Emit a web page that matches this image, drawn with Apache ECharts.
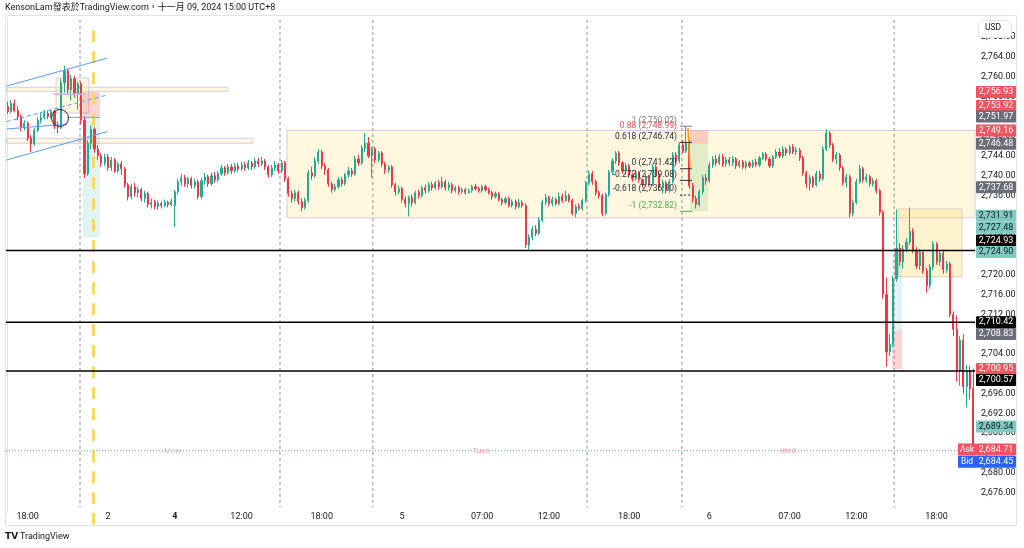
<!DOCTYPE html>
<html><head><meta charset="utf-8">
<script src="https://cdn.jsdelivr.net/npm/echarts@6/dist/echarts.min.js"></script>
<style>html,body{margin:0;padding:0;background:#fff}#c{width:1024px;height:548px}</style>
</head><body><div id="c"></div><script>
// ---- sessions (15-minute bars): [y, m, d, hh, mm, bars]
const sessions = [[2024,10,1,16,30,50],[2024,10,4,7,0,92],[2024,10,5,7,0,92],[2024,10,6,7,0,56]];
// ---- time-axis tick labels: [barIndex, label]
const tickLabels = [[6,'18:00'],[30,'2'],[50,'4'],[70,'12:00'],[94,'18:00'],[118,'5'],[142,'07:00'],[162,'12:00'],[186,'18:00'],[210,'6'],[234,'07:00'],[254,'12:00'],[278,'18:00']];
// ---- candles: [open, close, low, high]
const ohlc = [
[2754.0,2753.0,2752.5,2755.0],[2753.0,2754.6,2752.6,2755.3],[2754.6,2753.2,2752.8,2755.4],[2753.2,2752.0,2751.2,2754.0],
[2752.0,2749.8,2749.0,2752.4],[2749.8,2750.6,2749.2,2751.2],[2750.6,2747.6,2747.0,2751.0],[2747.6,2746.4,2744.8,2748.2],
[2746.4,2749.2,2746.0,2749.6],[2749.2,2751.2,2748.8,2751.8],[2751.2,2751.8,2750.6,2752.8],[2751.8,2752.6,2751.4,2753.3],
[2752.6,2752.0,2751.5,2753.2],[2752.0,2753.0,2751.6,2753.5],[2753.0,2750.0,2749.4,2753.3],[2750.0,2749.8,2748.6,2751.0],
[2749.8,2758.8,2749.4,2759.6],[2758.8,2761.2,2756.8,2762.2],[2761.2,2757.4,2756.6,2761.6],[2757.4,2759.6,2755.2,2760.4],
[2759.6,2756.6,2755.8,2760.2],[2756.6,2758.6,2753.4,2759.0],[2758.6,2751.2,2750.4,2759.0],[2751.2,2740.4,2739.6,2752.0],
[2740.4,2746.6,2740.0,2747.2],[2746.6,2749.4,2745.4,2750.2],[2749.4,2745.4,2744.6,2749.8],[2745.4,2744.0,2743.2,2746.2],
[2744.0,2742.6,2741.8,2744.6],[2742.6,2743.8,2742.0,2744.4],[2743.8,2741.6,2741.0,2744.4],[2741.6,2743.2,2741.0,2743.8],
[2743.2,2741.0,2740.6,2743.6],[2741.0,2742.4,2740.6,2742.8],[2742.4,2741.4,2740.2,2743.0],[2741.4,2738.2,2737.6,2741.8],
[2738.2,2735.8,2735.0,2738.6],[2735.8,2737.8,2735.2,2738.4],[2737.8,2736.6,2735.8,2738.6],[2736.6,2737.2,2735.6,2737.8],
[2737.2,2735.4,2734.8,2737.6],[2735.4,2736.4,2734.6,2737.0],[2736.4,2734.2,2733.6,2736.8],[2734.2,2734.6,2733.4,2735.4],
[2734.6,2733.8,2733.2,2735.2],[2733.8,2734.4,2733.2,2735.0],[2734.4,2734.0,2733.4,2734.8],[2734.0,2734.6,2733.6,2735.2],
[2734.6,2734.2,2733.6,2735.0],[2734.2,2734.8,2733.8,2735.4],
// Nov 4
[2734.0,2736.8,2729.6,2737.2],[2736.8,2738.8,2736.2,2739.4],[2738.8,2739.6,2738.0,2740.4],[2739.6,2738.4,2737.8,2740.2],
[2738.4,2739.4,2737.6,2739.8],[2739.4,2738.0,2737.4,2739.8],[2738.0,2738.8,2737.4,2739.4],[2738.8,2735.8,2735.2,2739.2],
[2735.8,2739.0,2735.4,2739.6],[2739.0,2739.8,2738.2,2740.6],[2739.8,2738.4,2737.8,2740.2],[2738.4,2740.0,2738.0,2740.6],
[2740.0,2739.2,2738.6,2740.8],[2739.2,2740.4,2738.8,2741.0],[2740.4,2741.6,2740.0,2742.2],[2741.6,2740.6,2740.0,2742.0],
[2740.6,2741.8,2740.2,2742.4],[2741.8,2741.0,2740.4,2742.4],[2741.0,2742.0,2740.6,2742.6],[2742.0,2741.4,2740.8,2742.6],
[2741.4,2742.2,2741.0,2742.8],[2742.2,2741.6,2741.0,2742.8],[2741.6,2742.6,2741.2,2743.2],[2742.6,2741.8,2741.2,2743.0],
[2741.8,2743.0,2741.4,2743.6],[2743.0,2742.4,2741.8,2743.6],[2742.4,2743.0,2742.0,2743.8],[2743.0,2741.8,2741.2,2743.4],
[2741.8,2740.2,2739.6,2742.2],[2740.2,2741.6,2739.8,2742.2],[2741.6,2742.2,2741.0,2743.0],[2742.2,2741.0,2740.4,2742.6],
[2741.0,2742.6,2740.6,2743.2],[2742.6,2739.4,2738.8,2743.0],[2739.4,2736.4,2735.8,2739.8],[2736.4,2735.4,2734.6,2737.0],
[2735.4,2736.6,2734.8,2737.2],[2736.6,2734.8,2734.2,2737.0],[2734.8,2733.6,2732.8,2735.4],[2733.6,2735.0,2733.2,2735.6],
[2735.0,2740.6,2734.6,2741.2],[2740.6,2740.0,2739.2,2741.8],[2740.0,2743.0,2739.6,2743.8],[2743.0,2744.8,2742.4,2745.4],
[2744.8,2742.0,2741.4,2745.2],[2742.0,2741.2,2740.2,2742.6],[2741.2,2738.4,2737.8,2741.6],[2738.4,2737.2,2736.6,2738.8],
[2737.2,2737.8,2736.8,2738.4],[2737.8,2739.2,2737.4,2739.8],[2739.2,2738.4,2737.8,2739.8],[2738.4,2740.2,2738.0,2740.6],
[2740.2,2741.0,2739.6,2741.8],[2741.0,2740.4,2739.8,2741.6],[2740.4,2743.4,2740.0,2744.0],[2743.4,2742.6,2742.0,2744.2],
[2742.6,2745.6,2742.2,2746.2],[2745.6,2746.6,2744.8,2748.6],[2746.6,2744.0,2743.6,2747.8],[2744.0,2745.4,2739.6,2745.8],
[2745.4,2743.2,2742.6,2745.8],[2743.2,2744.6,2742.8,2745.0],[2744.6,2742.4,2741.8,2745.0],[2742.4,2741.2,2740.4,2742.8],
[2741.2,2741.8,2740.6,2742.2],[2741.8,2738.2,2737.6,2742.2],[2738.2,2736.8,2736.0,2738.6],[2736.8,2737.4,2736.2,2738.0],
[2737.4,2735.2,2734.6,2737.8],[2735.2,2734.4,2733.6,2735.8],[2734.4,2735.6,2731.8,2736.0],[2735.6,2734.6,2733.8,2736.2],
[2734.6,2736.6,2734.2,2737.0],[2736.6,2736.0,2735.4,2737.2],[2736.0,2737.6,2735.6,2738.0],[2737.6,2737.0,2736.4,2738.2],
[2737.0,2738.2,2736.6,2738.8],[2738.2,2737.6,2737.0,2738.8],[2737.6,2738.6,2737.2,2739.0],[2738.6,2737.8,2737.2,2739.2],
[2737.8,2738.8,2737.4,2739.8],[2738.8,2737.6,2737.0,2739.2],[2737.6,2738.2,2737.0,2738.8],[2738.2,2737.0,2736.4,2738.6],
[2737.0,2737.6,2736.6,2738.0],[2737.6,2736.8,2736.2,2738.0],[2736.8,2737.2,2736.4,2737.6],[2737.2,2736.6,2736.2,2737.6],
[2736.6,2737.0,2736.4,2737.4],[2737.0,2737.8,2736.6,2738.2],[2737.8,2737.4,2737.0,2738.4],[2737.4,2737.0,2736.6,2737.8],
// Nov 5
[2737.0,2737.8,2736.6,2738.2],[2737.8,2737.2,2736.8,2738.2],[2737.2,2736.6,2736.2,2737.6],[2736.6,2735.8,2735.2,2737.0],
[2735.8,2736.4,2735.4,2736.8],[2736.4,2735.2,2734.8,2736.8],[2735.2,2734.6,2734.0,2735.6],[2734.6,2735.4,2734.2,2735.8],
[2735.4,2734.0,2733.6,2735.8],[2734.0,2734.8,2733.6,2735.2],[2734.8,2733.8,2733.2,2735.2],[2733.8,2734.6,2733.4,2735.4],
[2734.6,2734.0,2733.6,2735.0],[2734.0,2726.0,2725.4,2734.4],[2726.0,2727.6,2725.0,2728.2],[2727.6,2729.2,2727.0,2729.8],
[2729.2,2728.4,2727.8,2730.0],[2728.4,2731.0,2728.0,2731.6],[2731.0,2734.6,2730.6,2735.2],[2734.6,2735.6,2734.0,2736.4],
[2735.6,2734.4,2733.8,2736.0],[2734.4,2735.2,2733.8,2735.8],[2735.2,2734.4,2734.0,2735.6],[2734.4,2735.8,2734.0,2736.6],
[2735.8,2735.0,2734.6,2736.4],[2735.0,2736.0,2734.8,2737.0],[2736.0,2735.0,2734.6,2736.4],[2735.0,2732.4,2732.0,2735.4],
[2732.4,2733.8,2731.6,2734.2],[2733.8,2733.4,2733.0,2734.4],[2733.4,2735.0,2733.0,2735.4],[2735.0,2738.6,2734.6,2739.0],
[2738.6,2740.4,2738.0,2741.0],[2740.4,2738.8,2738.2,2741.0],[2738.8,2736.6,2736.0,2739.2],[2736.6,2736.0,2735.4,2737.0],
[2736.0,2732.4,2731.8,2736.4],[2732.4,2736.2,2732.0,2736.6],[2736.2,2740.8,2735.8,2741.2],[2740.8,2743.0,2740.2,2743.6],
[2743.0,2744.6,2742.4,2745.0],[2744.6,2742.6,2742.0,2745.0],[2742.6,2741.0,2740.4,2743.0],[2741.0,2742.0,2740.4,2742.6],
[2742.0,2740.2,2739.6,2742.4],[2740.2,2739.4,2738.8,2740.6],[2739.4,2740.6,2739.0,2741.2],[2740.6,2739.2,2738.6,2741.0],
[2739.2,2738.2,2737.6,2739.6],[2738.2,2739.8,2737.8,2740.4],[2739.8,2738.4,2737.8,2740.2],[2738.4,2741.8,2738.0,2742.4],
[2741.8,2740.4,2739.8,2742.2],[2740.4,2737.6,2737.0,2740.8],[2737.6,2738.6,2736.4,2739.2],[2738.6,2737.0,2736.4,2739.0],
[2737.0,2738.8,2736.6,2739.4],[2738.8,2744.2,2738.4,2744.8],[2744.2,2743.0,2742.4,2744.8],[2743.0,2746.2,2742.6,2746.8],
[2746.2,2745.0,2744.6,2747.2],[2745.0,2746.6,2744.6,2750.0],[2746.6,2738.0,2737.4,2747.2],[2738.0,2735.4,2734.6,2738.6],
[2735.4,2734.2,2733.4,2736.0],[2734.2,2736.8,2733.8,2737.2],[2736.8,2739.6,2736.2,2740.2],[2739.6,2739.0,2738.2,2740.4],
[2739.0,2742.2,2738.6,2742.8],[2742.2,2743.4,2741.6,2744.0],[2743.4,2742.6,2742.0,2744.2],[2742.6,2743.8,2742.2,2744.4],
[2743.8,2742.4,2741.8,2744.4],[2742.4,2743.2,2741.8,2743.8],[2743.2,2742.6,2742.0,2743.8],[2742.6,2743.4,2742.0,2744.0],
[2743.4,2742.0,2741.4,2743.8],[2742.0,2742.8,2741.6,2743.2],[2742.8,2741.8,2741.4,2743.2],[2741.8,2742.6,2741.4,2743.0],
[2742.6,2742.0,2741.6,2743.0],[2742.0,2742.8,2741.6,2743.2],[2742.8,2742.2,2741.8,2743.4],[2742.2,2743.6,2741.8,2744.0],
[2743.6,2744.4,2743.2,2744.8],[2744.4,2743.4,2743.0,2744.8],[2743.4,2742.0,2741.6,2743.8],[2742.0,2743.8,2741.6,2744.2],
[2743.8,2744.8,2743.4,2745.4],[2744.8,2744.0,2743.6,2745.6],[2744.0,2745.4,2743.6,2746.0],[2745.4,2744.6,2744.0,2745.8],
// Nov 6
[2744.6,2745.8,2744.2,2746.2],[2745.8,2744.8,2744.4,2746.4],[2744.8,2745.2,2744.2,2745.8],[2745.2,2743.6,2743.0,2745.6],
[2743.6,2740.6,2740.0,2744.0],[2740.6,2738.4,2737.6,2741.0],[2738.4,2739.6,2737.0,2740.2],[2739.6,2738.2,2737.6,2740.0],
[2738.2,2740.4,2737.8,2741.0],[2740.4,2739.4,2738.8,2741.0],[2739.4,2745.4,2739.0,2746.0],[2745.4,2748.6,2745.0,2749.4],
[2748.6,2746.2,2745.6,2749.0],[2746.2,2743.4,2742.8,2746.6],[2743.4,2744.2,2742.4,2744.8],[2744.2,2741.6,2741.0,2744.6],
[2741.6,2738.6,2738.0,2742.0],[2738.6,2739.8,2737.6,2740.4],[2739.8,2732.4,2731.6,2740.2],[2732.4,2734.6,2731.8,2735.2],
[2734.6,2738.8,2734.2,2739.4],[2738.8,2741.4,2738.4,2742.2],[2741.4,2739.2,2738.6,2741.8],[2739.2,2739.8,2738.6,2740.4],
[2739.8,2738.4,2737.8,2740.2],[2738.4,2739.0,2737.8,2739.6],[2739.0,2737.0,2736.4,2739.4],[2737.0,2732.6,2732.0,2737.4],
[2732.6,2716.0,2715.2,2733.0],[2716.0,2704.4,2701.4,2719.4],[2704.4,2706.0,2703.6,2708.0],[2706.0,2719.2,2705.4,2719.8],
[2719.2,2725.4,2718.6,2733.2],[2725.4,2722.6,2721.8,2726.4],[2722.6,2725.2,2721.2,2726.0],[2725.2,2726.6,2724.6,2727.4],
[2726.6,2728.8,2726.0,2733.6],[2728.8,2725.0,2724.4,2729.4],[2725.0,2721.8,2721.2,2725.6],[2721.8,2724.6,2721.0,2725.2],
[2724.6,2720.8,2720.2,2725.0],[2720.8,2717.8,2716.4,2721.4],[2717.8,2721.6,2717.2,2722.2],[2721.6,2726.2,2721.0,2726.8],
[2726.2,2722.6,2722.0,2726.6],[2722.6,2724.4,2721.8,2725.0],[2724.4,2721.0,2720.2,2724.8],[2721.0,2722.2,2720.4,2722.8],
[2722.2,2712.0,2711.4,2722.6],[2712.0,2709.0,2707.6,2712.6],[2709.0,2700.6,2698.4,2711.8],[2700.6,2706.8,2697.6,2707.6],
[2706.8,2697.4,2696.0,2708.0],[2697.4,2700.6,2693.2,2701.8],[2700.6,2697.0,2694.8,2701.6],[2697.0,2684.5,2683.8,2701.0]
];
// ---- horizontal black levels
const levels = [2724.93, 2710.42, 2700.57];
const lastPrice = 2684.45;
// ---- price tags on the axis: [value, text, kind, pixelShift, sideLabel]
const tags = [
[2756.93,'2,756.93','red',0],[2753.92,'2,753.92','red',-1],[2751.97,'2,751.97','gray',0],[2749.16,'2,749.16','red',0],
[2746.48,'2,746.48','gray',0],[2737.68,'2,737.68','gray',0],[2731.91,'2,731.91','teal',0],[2727.48,'2,727.48','teal',-10],
[2724.93,'2,724.93','black',-10],[2724.90,'2,724.90','teal',1.5],[2710.42,'2,710.42','black',0],[2708.83,'2,708.83','gray',4],
[2700.95,'2,700.95','red',0],[2700.57,'2,700.57','black',9],[2689.34,'2,689.34','teal',0],
[2684.71,'2,684.71','red',0,'Ask'],[2684.45,'2,684.45','blue',11,'Bid']
];
// ---- drawings (x in bar units, y in price)
const boxes = [ // [x0, x1, pTop, pBottom, kind]
[83.6,289.5,2749.16,2731.5,'cream'],
[-0.3,65.9,2757.88,2757.07,'cream'],
[-0.3,73.4,2747.58,2746.57,'cream'],
[14.5,24.3,2759.76,2752.69,'cream'],
[22.5,27.6,2756.93,2751.97,'stop'],
[22.5,27.6,2751.97,2727.48,'target'],
[266.5,285.6,2733.3,2719.6,'yellow'],
[264.7,267.7,2724.90,2708.83,'target'],
[264.7,267.7,2708.83,2700.95,'stop'],
[204.2,209.6,2749.16,2746.48,'stop'],
[204.2,209.6,2746.48,2732.82,'target2']
];
const trendLines = [ // [x0, p0, x1, p1, kind]
[-0.3,2758.14,29.7,2763.74,'blue'],
[-0.3,2750.93,29.7,2756.32,'blueDash'],
[-0.3,2749.45,17.8,2750.46,'blue'],
[-0.3,2743.19,29.7,2748.91,'blue'],
[13.6,2756.46,23.3,2756.46,'lav'],
[17.9,2751.82,27.6,2751.82,'grayThin'],
[203.6,2749.66,204.2,2741.58,'orange']
];
const vLines = [[21.65,'gray'],[81.5,'gray'],[109.3,'gray'],[173.4,'gray'],[201.8,'gray'],[265.3,'gray'],[25.7,'yellow']];
const fibLevels = [ // [label, price, colour]
['1 (2,750.02)',2750.02,'#787b86'],['0.88 (2,748.99)',2748.99,'#f7525f'],['0.618 (2,746.74)',2746.74,'#2a2e39'],
['0 (2,741.42)',2741.42,'#2a2e39'],['-0.272 (2,739.08)',2739.08,'#2a2e39'],['-0.618 (2,736.10)',2736.10,'#2a2e39'],['-1 (2,732.82)',2732.82,'#4caf50']
];
const dayMarks = [[49.2,'Mon','#c4c6cc'],[141.7,'Tues','#f5a3aa'],[233.6,'Wed','#f5a3aa']];
const circle = [15.66, 2751.68];

// ---- build categories
const categories = [];
sessions.forEach(([y,m,d,hh,mm,n]) => {
  const t0 = Date.UTC(y,m,d,hh,mm);
  for (let k=0;k<n;k++){
    const dt = new Date(t0 + k*15*60000);
    const p = v => String(v).padStart(2,'0');
    categories.push(p(dt.getUTCMonth()+1)+'-'+p(dt.getUTCDate())+' '+p(dt.getUTCHours())+':'+p(dt.getUTCMinutes()));
  }
});
const tickMap = new Map(tickLabels);

const FONT = 'Roboto, "Noto Sans CJK TC", sans-serif';
const boxStyle = {
  cream:{fill:'rgba(255,236,170,0.38)',stroke:'#d6cbe6',lw:1},
  yellow:{fill:'rgba(252,222,130,0.38)',stroke:'#d9d0c0',lw:1},
  stop:{fill:'rgba(242,54,69,0.22)',stroke:null,lw:0},
  target:{fill:'rgba(34,171,148,0.13)',stroke:null,lw:0},
  target2:{fill:'rgba(76,175,80,0.16)',stroke:null,lw:0}
};
const lineStyleMap = {
  blue:{stroke:'#5b9cf6',lw:1,dash:null},
  blueDash:{stroke:'#5b9cf6',lw:1,dash:[4,3]},
  lav:{stroke:'#c9b8e0',lw:1.5,dash:null},
  grayThin:{stroke:'#9598a1',lw:1,dash:null},
  orange:{stroke:'#ff9800',lw:1.5,dash:null}
};
const tagStyle = {
  red:{bg:'#f7525f',fg:'#fff'}, gray:{bg:'#6a6d78',fg:'#fff'}, teal:{bg:'#7fcbbf',fg:'#131722'},
  black:{bg:'#000',fg:'#fff'}, blue:{bg:'#2962ff',fg:'#fff'}
};
const fmt = v => v.toFixed(2).replace(/\B(?=(\d{3})+(?!\d))/, ',');

const chart = echarts.init(document.getElementById('c'), null, {renderer:'canvas'});
const X1 = 289.5, X0 = -0.5;
chart.setOption({
  animation:false,
  backgroundColor:'#fff',
  grid:{left:6, right:49, top:17.4, height:495},
  xAxis:[
    {type:'category', data:categories, boundaryGap:true,
     axisLine:{show:false}, axisTick:{show:false}, splitLine:{show:false},
     axisLabel:{interval:(i)=>tickMap.has(i), formatter:(v,i)=> i===50 ? '{b|4}' : tickMap.get(i),
       margin:0, fontSize:9, color:'#131722', fontFamily:FONT,
       rich:{b:{fontWeight:'bold', fontSize:9, color:'#131722', fontFamily:FONT}}}},
    {type:'value', min:X0, max:X1, show:false}
  ],
  yAxis:{type:'value', position:'right', min:2672, max:2772, interval:4, scale:true,
    axisLine:{show:true, lineStyle:{color:'#e0e3eb'}}, axisTick:{show:false}, splitLine:{show:false},
    axisLabel:{margin:6, fontSize:9, color:'#131722', fontFamily:FONT, showMinLabel:false, showMaxLabel:false, formatter:v=>fmt(v)}},
  series:[
    {type:'custom', name:'boxes', xAxisIndex:1, z:1, silent:true,
     data:boxes.map(b=>[b[0],b[2]]),
     renderItem:(params, api)=>{
       const b = boxes[params.dataIndex], st = boxStyle[b[4]];
       const p0 = api.coord([b[0],b[2]]), p1 = api.coord([b[1],b[3]]);
       return {type:'rect', shape:{x:p0[0], y:p0[1], width:p1[0]-p0[0], height:p1[1]-p0[1]},
         style:{fill:st.fill, stroke:st.stroke, lineWidth:st.lw}};
     }},
    {type:'custom', name:'vlines', xAxisIndex:1, z:1, silent:true,
     data:vLines.map(v=>[v[0],2700]),
     renderItem:(params, api)=>{
       const v = vLines[params.dataIndex];
       if (v[1]==='yellow'){
         const a = api.coord([v[0],2769.4]), b = api.coord([v[0],2669.5]);
         return {type:'line', shape:{x1:a[0],y1:a[1],x2:b[0],y2:b[1]}, style:{stroke:'#f7d766', lineWidth:3, lineDash:[12,9]}};
       }
       const a = api.coord([v[0],2771.5]), b = api.coord([v[0],2673.0]);
       return {type:'line', shape:{x1:a[0],y1:a[1],x2:b[0],y2:b[1]}, style:{stroke:'#8a8d96', lineWidth:1, lineDash:[3,3]}};
     }},
    {type:'candlestick', name:'XAUUSD', data:ohlc, z:2, barWidth:1.6,
     itemStyle:{color:'#22ab94', color0:'#f23645', borderColor:'#22ab94', borderColor0:'#f23645', borderWidth:1}},
    {type:'custom', name:'lines', xAxisIndex:1, z:3, silent:true,
     data:trendLines.map(t=>[t[0],t[1]]),
     renderItem:(params, api)=>{
       const t = trendLines[params.dataIndex], st = lineStyleMap[t[4]];
       const a = api.coord([t[0],t[1]]), b = api.coord([t[2],t[3]]);
       return {type:'line', shape:{x1:a[0],y1:a[1],x2:b[0],y2:b[1]}, style:{stroke:st.stroke, lineWidth:st.lw, lineDash:st.dash}};
     }},
    {type:'custom', name:'levels', xAxisIndex:1, z:3, silent:true,
     data:levels.map(p=>[X0,p]),
     renderItem:(params, api)=>{
       const p = levels[params.dataIndex];
       const a = api.coord([X0,p]), b = api.coord([X1,p]);
       return {type:'line', shape:{x1:a[0],y1:a[1],x2:b[0],y2:b[1]}, style:{stroke:'#000', lineWidth:1.5}};
     }},
    {type:'custom', name:'priceLine', xAxisIndex:1, z:3, silent:true,
     data:[[X0,lastPrice]],
     renderItem:(params, api)=>{
       const a = api.coord([X0,lastPrice]), b = api.coord([X1,lastPrice]);
       return {type:'line', shape:{x1:a[0],y1:a[1],x2:b[0],y2:b[1]}, style:{stroke:'#5f9e97', lineWidth:1, lineDash:[1,2]}};
     }},
    {type:'custom', name:'days', xAxisIndex:1, z:3, silent:true,
     data:dayMarks.map(d=>[d[0],lastPrice]),
     renderItem:(params, api)=>{
       const d = dayMarks[params.dataIndex];
       const a = api.coord([d[0],lastPrice]);
       return {type:'text', style:{text:d[1], x:a[0], y:a[1], align:'center', verticalAlign:'middle', fill:d[2], fontSize:8, fontFamily:FONT}};
     }},
    {type:'custom', name:'circle', xAxisIndex:1, z:3, silent:true,
     data:[circle],
     renderItem:(params, api)=>{
       const a = api.coord(circle);
       return {type:'circle', shape:{cx:a[0], cy:a[1], r:8.5}, style:{fill:null, stroke:'#2a2e39', lineWidth:1}};
     }},
    {type:'custom', name:'fib', xAxisIndex:1, z:3, silent:true,
     data:fibLevels.map(f=>[201.2,f[1]]),
     renderItem:(params, api)=>{
       const f = fibLevels[params.dataIndex];
       const a = api.coord([201.2,f[1]]), b = api.coord([204.8,f[1]]), l = api.coord([200.3,f[1]]);
       const children = [{type:'text', style:{text:f[0], x:l[0], y:l[1]-1.5, align:'right', verticalAlign:'bottom', fill:f[2], fontSize:8.5, fontFamily:FONT}}];
       if (params.dataIndex !== 1) children.push({type:'line', shape:{x1:a[0],y1:a[1],x2:b[0],y2:b[1]}, style:{stroke:f[2], lineWidth:1, lineDash: params.dataIndex===5?[2,2]:null}});
       return {type:'group', children};
     }},
    {type:'custom', name:'tags', xAxisIndex:1, z:10, silent:true,
     data:tags.map(t=>[X1,t[0]]),
     renderItem:(params, api)=>{
       const t = tags[params.dataIndex], st = tagStyle[t[2]];
       const a = api.coord([X1,t[0]]);
       const y = a[1] + t[3], x = a[0];
       const ch = [
         {type:'rect', shape:{x:x+1, y:y-6, width:40, height:12, r:1}, style:{fill:st.bg}},
         {type:'text', style:{text:t[1], x:x+21, y:y, align:'center', verticalAlign:'middle', fill:st.fg, fontSize:9, fontFamily:FONT}}
       ];
       if (t[4]) {
         ch.push({type:'rect', shape:{x:x-17, y:y-6, width:18, height:12}, style:{fill:st.bg}});
         ch.push({type:'text', style:{text:t[4], x:x-8, y:y, align:'center', verticalAlign:'middle', fill:'#fff', fontSize:8.5, fontFamily:FONT}});
       }
       return {type:'group', children:ch};
     }}
  ],
  graphic:[
    {type:'text', left:5, top:3, z:20, style:{text:'KensonLam發表於TradingView.com，十一月 09, 2024 15:00 UTC+8', fill:'#131722', fontSize:9, fontFamily:FONT}},
    {type:'rect', z:19, shape:{x:5.5, y:15.5, width:1011, height:510}, style:{fill:null, stroke:'#e0e3eb', lineWidth:1}},
    {type:'rect', z:20, shape:{x:978.5, y:20.5, width:33, height:17, r:3}, style:{fill:'#fff', stroke:'#e0e3eb', lineWidth:1}},
    {type:'text', z:21, left:985, top:24, style:{text:'USD', fill:'#131722', fontSize:8.5, fontFamily:FONT}},
    {type:'text', z:20, left:5, top:532, style:{text:'TV', fill:'#131722', fontSize:9, fontWeight:900, fontFamily:'DejaVu Sans'}},
    {type:'text', z:20, left:20, top:532, style:{text:'TradingView', fill:'#131722', fontSize:9, fontFamily:FONT}}
  ]
});
</script></body></html>
